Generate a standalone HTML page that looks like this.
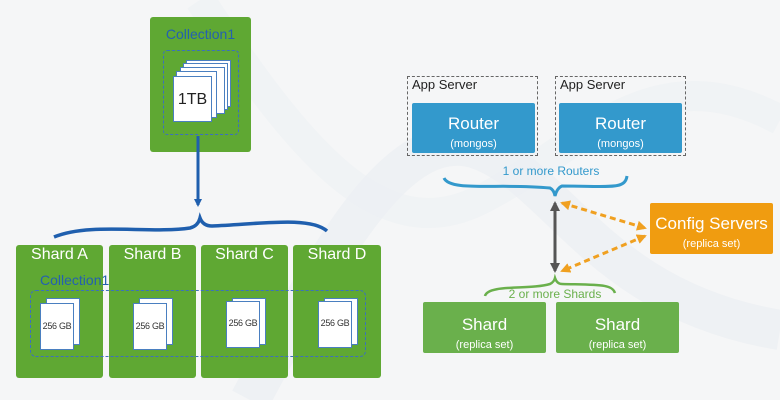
<!DOCTYPE html>
<html><head><style>
body{margin:0;width:780px;height:400px;background:#f5f6f7;font-family:"Liberation Sans",sans-serif;position:relative;overflow:hidden}
.a{position:absolute;box-sizing:border-box}
.g{background:#5fa833;border-radius:3px}
.t{color:#fff;text-align:center}
.doc{position:absolute;background:#fff;border:1px solid #4a7fc0;box-sizing:border-box;white-space:nowrap}
.s{font-size:9px;line-height:45px;text-align:center;color:#333;letter-spacing:-0.3px}
</style></head><body>
<svg class="a" style="left:0;top:0" width="780" height="400">
<path d="M250 400 C330 250 400 120 480 150 S600 300 780 330" stroke="#e8ecf2" stroke-width="40" fill="none" opacity=".5"/>
<path d="M200 0 C300 150 380 250 480 200 S650 50 780 120" stroke="#eceff4" stroke-width="30" fill="none" opacity=".5"/>
</svg>
<div class="a g" style="left:150px;top:17px;width:101px;height:135px"></div>
<div class="a" style="left:150px;top:26px;width:101px;text-align:center;color:#2460b0;font-size:14px">Collection1</div>
<div class="a" style="left:163px;top:50px;width:76px;height:85px;border:1px dashed #3b6fc0;border-radius:4px"></div>
<div class="doc" style="left:186px;top:60px;width:45px;height:47px"></div>
<div class="doc" style="left:183px;top:63px;width:45px;height:47px"></div>
<div class="doc" style="left:180px;top:67px;width:45px;height:47px"></div>
<div class="doc" style="left:176px;top:71px;width:41px;height:47px"></div>
<div class="doc" style="left:173px;top:76px;width:39px;height:46px;font-size:16px;text-align:center;line-height:46px;color:#222">1TB</div>
<svg class="a" style="left:0;top:0" width="780" height="400">
<defs>
<marker id="bl" markerWidth="8" markerHeight="8" refX="6" refY="4" orient="auto" markerUnits="userSpaceOnUse"><path d="M0,0 L8,4 L0,8z" fill="#1f5fae"/></marker>
<marker id="gr" markerWidth="10" markerHeight="10" refX="8" refY="5" orient="auto-start-reverse" markerUnits="userSpaceOnUse"><path d="M0,0 L10,5 L0,10z" fill="#555"/></marker>
<marker id="or" markerWidth="10" markerHeight="10" refX="8" refY="5" orient="auto-start-reverse" markerUnits="userSpaceOnUse"><path d="M0,0 L10,5 L0,10z" fill="#f0a020"/></marker>
</defs>
<line x1="198" y1="136" x2="198" y2="205" stroke="#1f5fae" stroke-width="3" marker-end="url(#bl)"/>
<path d="M54 237 C90 222 150 234 190 228 Q198 226 200 218 Q203 226 212 226 C260 224 310 216 327 231" stroke="#1f5fae" stroke-width="3.5" fill="none"/>
<path d="M444 178 C450 192 500 183 550 188 Q554 190 555 196 Q557 188 562 186 C610 186 625 190 627 176" stroke="#3399cc" stroke-width="3" fill="none"/>
<line x1="555" y1="203" x2="555" y2="271" stroke="#555" stroke-width="3" marker-start="url(#gr)" marker-end="url(#gr)"/>
<line x1="562" y1="203" x2="645" y2="228" stroke="#f0a020" stroke-width="3" stroke-dasharray="6,4" marker-start="url(#or)" marker-end="url(#or)"/>
<line x1="645" y1="236" x2="562" y2="271" stroke="#f0a020" stroke-width="3" stroke-dasharray="6,4" marker-start="url(#or)" marker-end="url(#or)"/>
<path d="M485 296 C488 284 530 290 550 284 Q554 282 555 278 Q557 284 562 284 C600 285 612 284 615 293" stroke="#6ab04c" stroke-width="2.5" fill="none"/>
</svg>
<div class="a g" style="left:16px;top:245px;width:87px;height:133px"></div>
<div class="a g" style="left:109px;top:245px;width:87px;height:133px"></div>
<div class="a g" style="left:201px;top:245px;width:87px;height:133px"></div>
<div class="a g" style="left:293px;top:245px;width:88px;height:133px"></div>
<div class="a t" style="left:16px;top:246px;width:87px;font-size:16px">Shard A</div>
<div class="a t" style="left:109px;top:246px;width:87px;font-size:16px">Shard B</div>
<div class="a t" style="left:201px;top:246px;width:87px;font-size:16px">Shard C</div>
<div class="a t" style="left:293px;top:246px;width:88px;font-size:16px">Shard D</div>
<div class="a" style="left:40px;top:272px;color:#2460b0;font-size:14px">Collection1</div>
<div class="a" style="left:30px;top:290px;width:336px;height:67px;border:1px dashed #3b6fc0;border-radius:6px"></div>
<div class="doc" style="left:46px;top:298px;width:34px;height:47px"></div>
<div class="doc s" style="left:40px;top:303px;width:34px;height:47px">256 GB</div>
<div class="doc" style="left:139px;top:298px;width:34px;height:47px"></div>
<div class="doc s" style="left:133px;top:303px;width:34px;height:47px">256 GB</div>
<div class="doc" style="left:232px;top:298px;width:34px;height:47px"></div>
<div class="doc s" style="left:226px;top:301px;width:34px;height:47px;line-height:42px">256 GB</div>
<div class="doc" style="left:324px;top:298px;width:34px;height:47px"></div>
<div class="doc s" style="left:318px;top:301px;width:34px;height:47px;line-height:42px">256 GB</div>

<div class="a" style="left:407px;top:76px;width:131px;height:80px;border:1.5px dashed #666"></div>
<div class="a" style="left:555px;top:76px;width:131px;height:80px;border:1.5px dashed #666"></div>
<div class="a" style="left:412px;top:77px;font-size:13px;color:#222">App Server</div>
<div class="a" style="left:560px;top:77px;font-size:13px;color:#222">App Server</div>
<div class="a t" style="left:412px;top:103px;width:123px;height:50px;background:#3399cc;border-radius:2px;font-size:17px;padding-top:12px;line-height:18px">Router<br><span style="font-size:11px">(mongos)</span></div>
<div class="a t" style="left:559px;top:103px;width:123px;height:50px;background:#3399cc;border-radius:2px;font-size:17px;padding-top:12px;line-height:18px">Router<br><span style="font-size:11px">(mongos)</span></div>
<div class="a" style="left:470px;top:164px;width:162px;text-align:center;color:#3399cc;font-size:12px">1 or more Routers</div>
<div class="a t" style="left:650px;top:203px;width:123px;height:51px;background:#f09c10;border-radius:2px;font-size:17px;padding-top:12px;line-height:18px">Config Servers<br><span style="font-size:11px">(replica set)</span></div>
<div class="a" style="left:470px;top:287px;width:170px;text-align:center;color:#6ab04c;font-size:12px">2 or more Shards</div>
<div class="a t" style="left:423px;top:302px;width:123px;height:51px;background:#6ab04c;border-radius:2px;font-size:17px;padding-top:14px;line-height:18px">Shard<br><span style="font-size:11px">(replica set)</span></div>
<div class="a t" style="left:556px;top:302px;width:123px;height:51px;background:#6ab04c;border-radius:2px;font-size:17px;padding-top:14px;line-height:18px">Shard<br><span style="font-size:11px">(replica set)</span></div>
</body></html>
